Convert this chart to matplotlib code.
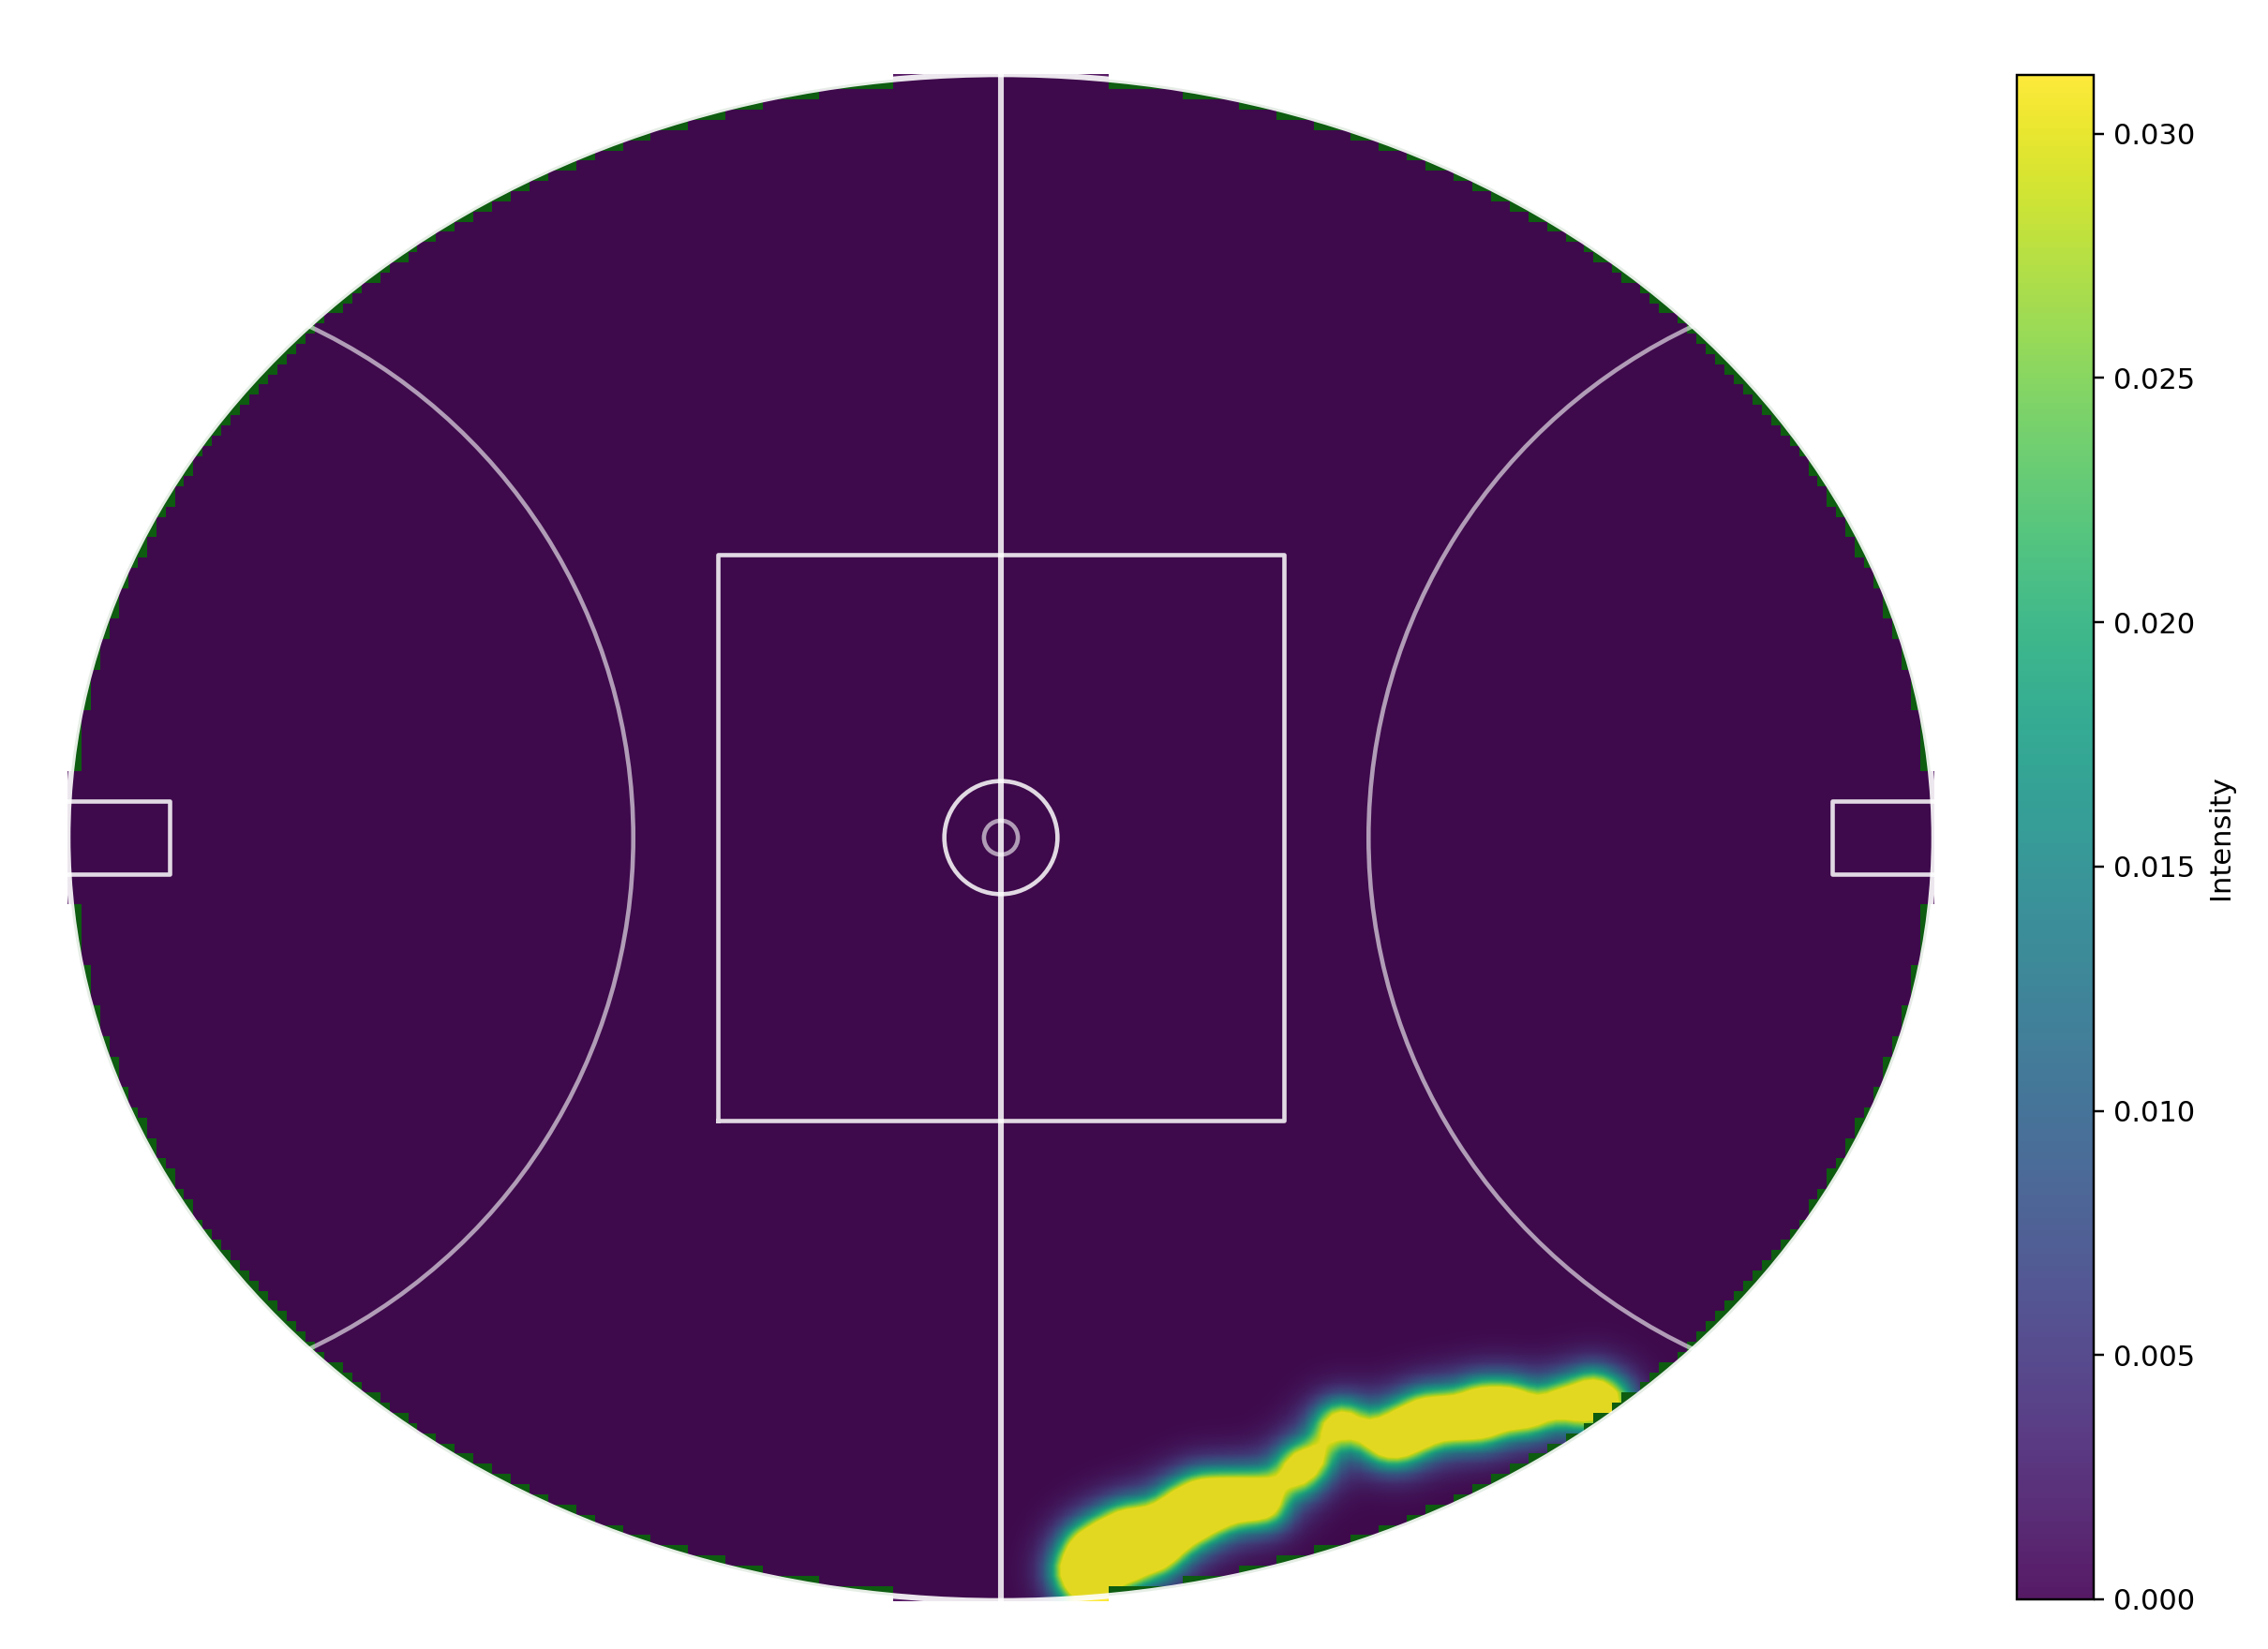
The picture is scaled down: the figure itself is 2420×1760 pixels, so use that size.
import numpy as np
import matplotlib
matplotlib.use("Agg")
import matplotlib.pyplot as plt
from matplotlib.patches import Arc, Circle, Ellipse
from matplotlib.path import Path
from matplotlib.ticker import FormatStrFormatter

# Field size in metres
field_length = 165
field_width = 135
n_cols = 200
n_rows = 150

# Colour scale
vmax = 0.0312
cbar_ticks = [0.000, 0.005, 0.010, 0.015, 0.020, 0.025, 0.030]

# Outline of the saturated (yellow) part of the heatmap
hot_x = [5.5, 5.55, 5.14, 5.55, 6.79, 8.45, 10.11, 12.32, 13.7, 15.35, 17.29, 18.95, 20.6,
         21.98, 24.19, 24.8, 25.15, 25.2, 24.9, 25.7, 27.3, 28.0, 28.4, 28.2, 28.7, 30.13, 31.3,
         32.48, 34.13, 36.07, 39.11, 42.42, 46.29, 48.22, 49.88, 51.26, 53.74, 54.85, 55.4,
         54.85, 51.53, 49.05, 48.22, 46.56, 42.42, 40.21, 38.28, 36.62, 34.69, 33.58, 32.62,
         31.79, 29.72, 28.9, 28.5, 28.8, 28.6, 27.4, 25.9, 25.3, 25.08, 25.02, 24.47, 23.36,
         21.98, 20.6, 18.95, 17.56, 16.18, 15.08, 13.42, 11.49, 10.11, 9.53, 9.53, 9.5]
hot_y = [-68.5, -67.05, -64.84, -63.19, -61.39, -60.43, -59.87, -59.6, -59.04, -57.94, -56.7,
         -56.28, -56.28, -56.7, -56.97, -57.6, -57.55, -56.6, -55.6, -53.9, -53.4, -53.9, -53.75,
         -52.4, -50.6, -50.0, -50.5, -51.86, -50.9, -50.07, -49.24, -48.96, -49.05, -49.38, -48.41,
         -48.14, -48.14, -48.96, -49.79, -50.76, -51.78, -51.45, -51.72, -52.55, -52.69, -52.83,
         -53.24, -54.35, -55.18, -54.9, -53.94, -53.24, -53.5, -53.2, -53.85, -54.6, -55.5, -57.0,
         -57.4, -57.65, -57.94, -59.04, -60.01, -60.57, -60.43, -60.43, -60.98, -61.81, -63.33,
         -64.29, -64.98, -65.4, -65.95, -66.5, -67.6, -68.5]

# Sharp core and wide glow around the outline
core_m, core_gain = 1.0, 1.2
glow_m, glow_gain = 2.0, 0.95

a = field_length / 2
b = field_width / 2

# Cell centres
dx = field_length / n_cols
dy = field_width / n_rows
xs = -a + (np.arange(n_cols) + 0.5) * dx
ys = -b + (np.arange(n_rows) + 0.5) * dy
X, Y = np.meshgrid(xs, ys)

inside = Path(np.column_stack([hot_x, hot_y])).contains_points(np.column_stack([X.ravel(), Y.ravel()]))
hot = inside.reshape(X.shape).astype(float)


def blur(arr, sigma, axis):
    r = int(4 * sigma) + 1
    k = np.exp(-0.5 * (np.arange(-r, r + 1) / sigma) ** 2)
    k /= k.sum()
    return np.apply_along_axis(lambda v: np.convolve(v, k, mode="same"), axis, arr)


def blur2d(arr, metres):
    return blur(blur(arr, metres / dy, 0), metres / dx, 1)


heat = (core_gain * blur2d(hot, core_m) + glow_gain * blur2d(hot, glow_m)) * vmax
heat = np.ma.masked_where((X / a) ** 2 + (Y / b) ** 2 > 1, heat)

# Figure, 2420x1760 at dpi 220
fig = plt.figure(figsize=(11, 8), dpi=220)
scale = 12.07
cx, cy = 1068, 894
lim_x, lim_y = 86, 70
ax = fig.add_axes([(cx - lim_x * scale) / 2420, 1 - (cy + lim_y * scale) / 1760,
                   2 * lim_x * scale / 2420, 2 * lim_y * scale / 1760])
ax.axis("off")

ax.add_patch(Ellipse((0, 0), field_length, field_width, fc="#0d5c10", ec="none", zorder=1))
im = ax.imshow(heat, origin="lower", extent=(-a, a, -b, b), cmap="viridis", vmin=0, vmax=vmax,
               alpha=0.9, interpolation="bilinear", aspect="auto", zorder=2)
ax.set_xlim(-lim_x, lim_x)
ax.set_ylim(-lim_y, lim_y)

# Field markings
ax.add_patch(Ellipse((0, 0), field_length, field_width, fill=False, ec="white", lw=2, alpha=0.9, zorder=3))
ax.plot([0, 0], [-b, b], color="white", lw=2, alpha=0.85, zorder=3)
ax.plot([-25, 25, 25, -25, -25], [-25, -25, 25, 25, -25], color="white", lw=1.5, alpha=0.85, zorder=3)
ax.add_patch(Circle((0, 0), 5, fill=False, ec="white", lw=1.5, alpha=0.85, zorder=3))
ax.add_patch(Circle((0, 0), 1.5, fill=False, ec="white", lw=1.5, alpha=0.6, zorder=3))
ax.add_patch(Arc((-a, 0), 100, 100, theta1=-65, theta2=65, ec="white", lw=1.5, alpha=0.6, zorder=3))
ax.add_patch(Arc((a, 0), 100, 100, theta1=115, theta2=245, ec="white", lw=1.5, alpha=0.6, zorder=3))
for side in (-1, 1):
    ax.plot([side * a, side * (a - 9), side * (a - 9), side * a], [3.2, 3.2, -3.2, -3.2],
            color="white", lw=1.5, alpha=0.85, zorder=3)

# Colorbar
cax = fig.add_axes([2152 / 2420, 1 - 1707 / 1760, 82 / 2420, (1707 - 80) / 1760])
cbar = fig.colorbar(im, cax=cax, label="Intensity")
cbar.set_ticks(cbar_ticks)
cbar.ax.yaxis.set_major_formatter(FormatStrFormatter("%.3f"))

plt.savefig("out.png", dpi=220)
